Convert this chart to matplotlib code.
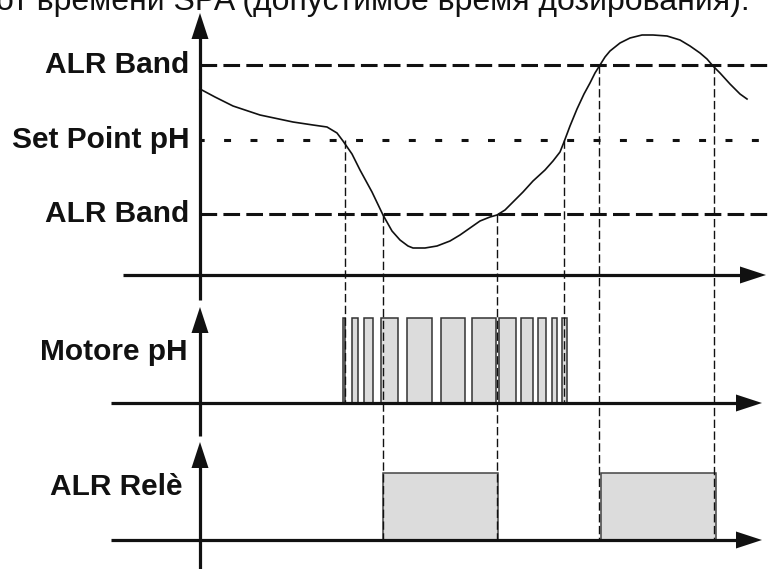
"""Diagramma ALR: pH, motore pH e relè allarme nel tempo."""
import matplotlib

matplotlib.use("Agg")
import matplotlib.pyplot as plt
from matplotlib.patches import Rectangle, Polygon

plt.rcParams["font.family"] = ["Liberation Sans", "DejaVu Sans"]
plt.rcParams["lines.scale_dashes"] = False

# ── dati (unità = pixel del disegno originale) ─────────────────────
title_text = "от времени SPA (допустимое время дозирования)."

band_labels = ["ALR Band", "Set Point pH", "ALR Band"]
band_levels = [65, 140, 214]

curve_t = [200, 215, 233, 260, 293, 313, 327, 337, 343, 352, 360, 372, 383,
           392, 400, 408, 413, 425, 437, 450, 460, 470, 480, 490, 497, 505,
           513, 523, 533, 545, 553, 560, 564, 570, 577, 584, 590, 595, 600,
           605, 610, 620, 630, 642, 653, 667, 680, 690, 700, 707, 713, 720,
           730, 740, 747]
curve_ph = [89, 97, 106, 115, 122, 125, 127, 133, 141, 154, 170, 192, 215,
            231, 240, 246, 248, 248, 246, 241, 235, 228, 221, 217, 215, 210,
            202, 192, 181, 170, 161, 152, 142, 126, 109, 94, 83, 73, 65,
            57, 51, 43, 38, 35, 35, 36, 40, 46, 53, 59, 66, 73,
            84, 94, 99]

cross_t = [345, 383, 497, 564, 599, 714]
cross_level = [140, 214, 214, 140, 65, 65]
cross_bottom = [403, 540, 540, 403, 540, 540]

motor_on = [343, 352, 364, 381, 407, 441, 472, 499, 521, 538, 552, 562]
motor_off = [345, 358, 373, 398, 432, 465, 496, 516, 533, 546, 557, 567]

relay_on = [383, 601]
relay_off = [498, 716]

# ── layout ─────────────────────────────────────────────────────────
AX_X = 200
PH_BASE, MOTOR_BASE, RELAY_BASE = 275, 403, 540
MOTOR_TOP, RELAY_TOP = 318, 473
LINE_W = 2.3
HEAD_L, HEAD_W = 26, 17
FILL = "#dcdcdc"


def v_arrow(ax, x, y_tip, y_end):
    ax.plot([x, x], [y_tip + HEAD_L - 2, y_end], color="#111111", lw=LINE_W,
            solid_capstyle="butt")
    ax.add_patch(Polygon([[x, y_tip], [x - HEAD_W / 2, y_tip + HEAD_L],
                          [x + HEAD_W / 2, y_tip + HEAD_L]], closed=True,
                         color="#111111", lw=0))


def h_arrow(ax, y, x_start, x_tip):
    ax.plot([x_start, x_tip - HEAD_L + 2], [y, y], color="#111111", lw=LINE_W,
            solid_capstyle="butt")
    ax.add_patch(Polygon([[x_tip, y], [x_tip - HEAD_L, y - HEAD_W / 2],
                          [x_tip - HEAD_L, y + HEAD_W / 2]], closed=True,
                         color="#111111", lw=0))


fig = plt.figure(figsize=(7.69, 5.69), dpi=100)
ax = fig.add_axes([0, 0, 1, 1])
ax.set_xlim(0, 769)
ax.set_ylim(569, 0)
ax.axis("off")

# riga di testo tagliata in alto, come nell'originale
ax.text(750, 10, title_text, ha="right", va="baseline", fontsize=23, color="#111111")

# soglie
ax.plot([AX_X, 769], [band_levels[0]] * 2, color="#111111", lw=2.2, linestyle=(0, (12, 4.5)))
ax.plot([AX_X, 769], [band_levels[1]] * 2, color="#111111", lw=2.2, linestyle=(2, (5, 14)))
ax.plot([AX_X, 769], [band_levels[2]] * 2, color="#111111", lw=2.2, linestyle=(0, (12, 4.5)))
for lab, lev in zip(band_labels, band_levels):
    ax.text(189, lev, lab, ha="right", va="center", fontsize=21.5, fontweight="bold",
            color="#111111")

# verticali tratteggiate
for t, lev, bot in zip(cross_t, cross_level, cross_bottom):
    ax.plot([t, t], [lev, bot], color="#111111", lw=1.0, linestyle=(0, (6, 2.5)))

# curva pH
ax.plot(curve_t, curve_ph, color="#111111", lw=1.2)

# impulsi motore
for a, b in zip(motor_on, motor_off):
    ax.add_patch(Rectangle((a, MOTOR_TOP), b - a, MOTOR_BASE - MOTOR_TOP,
                           facecolor=FILL, edgecolor="#333333", lw=1.1))

# relè
for a, b in zip(relay_on, relay_off):
    ax.add_patch(Rectangle((a, RELAY_TOP), b - a, RELAY_BASE - RELAY_TOP,
                           facecolor=FILL, edgecolor="#444444", lw=1.1))

ax.text(187, 352, "Motore pH", ha="right", va="center", fontsize=21.5, fontweight="bold",
        color="#111111")
ax.text(182, 487, "ALR Relè", ha="right", va="center", fontsize=21.5, fontweight="bold",
        color="#111111")

# assi
v_arrow(ax, AX_X, 13, 300)
v_arrow(ax, AX_X, 307, 436)
v_arrow(ax, AX_X, 442, 569)
h_arrow(ax, PH_BASE, 123, 766)
h_arrow(ax, MOTOR_BASE, 111, 762)
h_arrow(ax, RELAY_BASE, 111, 762)

fig.savefig("out.png", dpi=100)
